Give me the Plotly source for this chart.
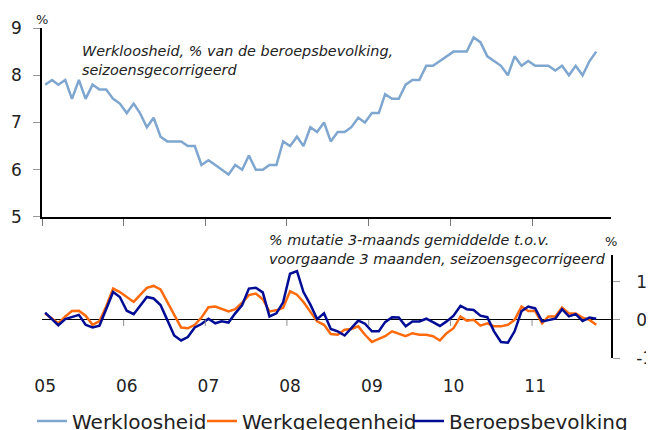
import pandas as pd
import plotly.graph_objects as go

# maandcijfers jan 2005 - okt 2011
maanden = pd.date_range("2005-01-01", periods=82, freq="MS") + pd.Timedelta(days=14)

werkloosheid = [
    7.8, 7.9, 7.8, 7.9, 7.5, 7.9, 7.5, 7.8, 7.7, 7.7, 7.5, 7.4,
    7.2, 7.4, 7.2, 6.9, 7.1, 6.7, 6.6, 6.6, 6.6, 6.5, 6.5, 6.1,
    6.2, 6.1, 6.0, 5.9, 6.1, 6.0, 6.3, 6.0, 6.0, 6.1, 6.1, 6.6,
    6.5, 6.7, 6.5, 6.9, 6.8, 7.0, 6.6, 6.8, 6.8, 6.9, 7.1, 7.0,
    7.2, 7.2, 7.6, 7.5, 7.5, 7.8, 7.9, 7.9, 8.2, 8.2, 8.3, 8.4,
    8.5, 8.5, 8.5, 8.8, 8.7, 8.4, 8.3, 8.2, 8.0, 8.4, 8.2, 8.3,
    8.2, 8.2, 8.2, 8.1, 8.2, 8.0, 8.2, 8.0, 8.3, 8.5,
]

werkgelegenheid = [
    0.17, 0.04, -0.09, 0.09, 0.23, 0.24, 0.11, -0.13, -0.03, 0.35, 0.82, 0.73,
    0.60, 0.47, 0.65, 0.84, 0.89, 0.80, 0.47, 0.13, -0.20, -0.22, -0.13, 0.06,
    0.33, 0.35, 0.28, 0.22, 0.28, 0.45, 0.65, 0.69, 0.54, 0.22, 0.25, 0.32,
    0.75, 0.66, 0.47, 0.22, -0.04, -0.13, -0.37, -0.39, -0.26, -0.24, -0.17, -0.39,
    -0.58, -0.50, -0.43, -0.30, -0.37, -0.43, -0.35, -0.39, -0.39, -0.43, -0.54, -0.35,
    -0.22, 0.09, -0.02, 0.00, -0.15, -0.09, -0.17, -0.17, -0.13, 0.00, 0.35, 0.23,
    0.23, -0.09, 0.09, 0.09, 0.32, 0.17, 0.17, 0.06, 0.00, -0.13,
]

beroepsbevolking = [
    0.19, 0.03, -0.14, 0.02, 0.07, 0.13, -0.13, -0.20, -0.15, 0.30, 0.73, 0.60,
    0.24, 0.15, 0.37, 0.60, 0.56, 0.39, 0.00, -0.41, -0.54, -0.45, -0.20, -0.11,
    0.03, -0.09, -0.04, -0.07, 0.17, 0.39, 0.82, 0.84, 0.72, 0.09, 0.17, 0.46,
    1.21, 1.28, 0.73, 0.40, 0.02, 0.17, -0.24, -0.30, -0.41, -0.22, -0.02, -0.10,
    -0.30, -0.30, -0.06, 0.07, 0.06, -0.17, -0.04, -0.04, 0.03, -0.06, -0.16, -0.04,
    0.11, 0.37, 0.28, 0.26, 0.11, 0.07, -0.30, -0.58, -0.60, -0.30, 0.23, 0.35,
    0.30, -0.04, 0.00, 0.03, 0.28, 0.09, 0.15, -0.03, 0.06, 0.03,
]

jaren = ["2005", "2006", "2007", "2008", "2009", "2010", "2011"]
jaar_labels = ["05", "06", "07", "08", "09", "10", "11"]
mutatie_ticks = [-1, 0, 1]
mutatie_labels = ["-1", "0", "1"]

LICHTBLAUW = "#7ea6cf"
ORANJE = "#ff6a0d"
DONKERBLAUW = "#000c94"
FONT = "DejaVu Sans"
XRANGE = ["2005-01-01", "2011-12-20"]

fig = go.Figure()

fig.add_trace(go.Scatter(x=maanden, y=werkloosheid, name="Werkloosheid", mode="lines",
                         line=dict(color=LICHTBLAUW, width=2.5), xaxis="x", yaxis="y",
                         legendwidth=125))
fig.add_trace(go.Scatter(x=maanden, y=werkgelegenheid, name="Werkgelegenheid", mode="lines",
                         line=dict(color=ORANJE, width=2.5), xaxis="x2", yaxis="y2",
                         legendwidth=162))
fig.add_trace(go.Scatter(x=maanden, y=beroepsbevolking, name="Beroepsbevolking", mode="lines",
                         line=dict(color=DONKERBLAUW, width=2.5), xaxis="x2", yaxis="y2",
                         legendwidth=180))

# streepjes op de nullijn van het onderste paneel
for j in jaren[1:]:
    fig.add_shape(type="line", xref="x2", yref="y2", x0=j + "-01-01", x1=j + "-01-01",
                  ysizemode="pixel", yanchor=0, y0=0, y1=-6,
                  line=dict(color="#8c8c8c", width=1))

# pagina heeft 8px body-marge, daarom 646x422
fig.update_layout(
    width=646, height=422,
    margin=dict(l=34, r=43, t=20, b=72, autoexpand=False),
    paper_bgcolor="white", plot_bgcolor="white",
    font=dict(family=FONT, size=16, color="#222222"),
    showlegend=True,
    legend=dict(orientation="h", x=-0.0176, xanchor="left", y=-0.191, yanchor="middle",
                font=dict(size=20, color="#222222"), itemwidth=30, traceorder="normal"),
    xaxis=dict(domain=[0, 1], anchor="y", type="date", range=XRANGE, automargin=False,
               tickvals=[j + "-01-01" for j in jaren], showticklabels=False,
               ticks="outside", ticklen=7, tickcolor="#777777",
               showline=True, linecolor="black", linewidth=1.5, showgrid=False, zeroline=False),
    yaxis=dict(domain=[0.4273, 1], anchor="x", range=[5, 9], dtick=1, automargin=False,
               ticks="outside", ticklen=7, tickcolor="#999999", ticklabelstandoff=8,
               showline=True, linecolor="black", linewidth=1.5, showgrid=False, zeroline=False,
               tickfont=dict(size=17)),
    xaxis2=dict(domain=[0, 1], anchor="y2", type="date", range=XRANGE, automargin=False,
                tickvals=[j + "-01-15" for j in jaren], ticktext=jaar_labels,
                ticks="", showline=False, showgrid=False, zeroline=False,
                ticklabelstandoff=16, tickfont=dict(size=17)),
    yaxis2=dict(domain=[0, 0.312], anchor="x2", side="right", range=[-1, 1.7], automargin=False,
                tickvals=mutatie_ticks, ticktext=mutatie_labels,
                ticks="outside", ticklen=7, tickcolor="#999999",
                ticklabelstandoff=13,
                showline=True, linecolor="black", linewidth=1.5, showgrid=False,
                zeroline=True, zerolinecolor="black", zerolinewidth=1.3,
                tickfont=dict(size=17)),
)

fig.add_annotation(text="<i>Werkloosheid, % van de beroepsbevolking,<br>seizoensgecorrigeerd</i>",
                   xref="paper", yref="paper", x=0.0668, y=0.90, xanchor="left", yanchor="middle",
                   align="left", showarrow=False, font=dict(size=14.4, color="#222222"))
fig.add_annotation(text="<i>% mutatie 3-maands gemiddelde t.o.v.<br>voorgaande 3 maanden, seizoensgecorrigeerd</i>",
                   xref="paper", yref="paper", x=0.3954, y=0.3288, xanchor="left", yanchor="middle",
                   align="left", showarrow=False, font=dict(size=14.4, color="#222222"))
fig.add_annotation(text="%", xref="paper", yref="paper", x=0.0, y=1.027, xanchor="center",
                   yanchor="middle", showarrow=False, font=dict(size=13, color="#222222"))
fig.add_annotation(text="%", xref="paper", yref="paper", x=1.0, y=0.3545, xanchor="center",
                   yanchor="middle", showarrow=False, font=dict(size=13, color="#222222"))

fig.write_html("out.html")
